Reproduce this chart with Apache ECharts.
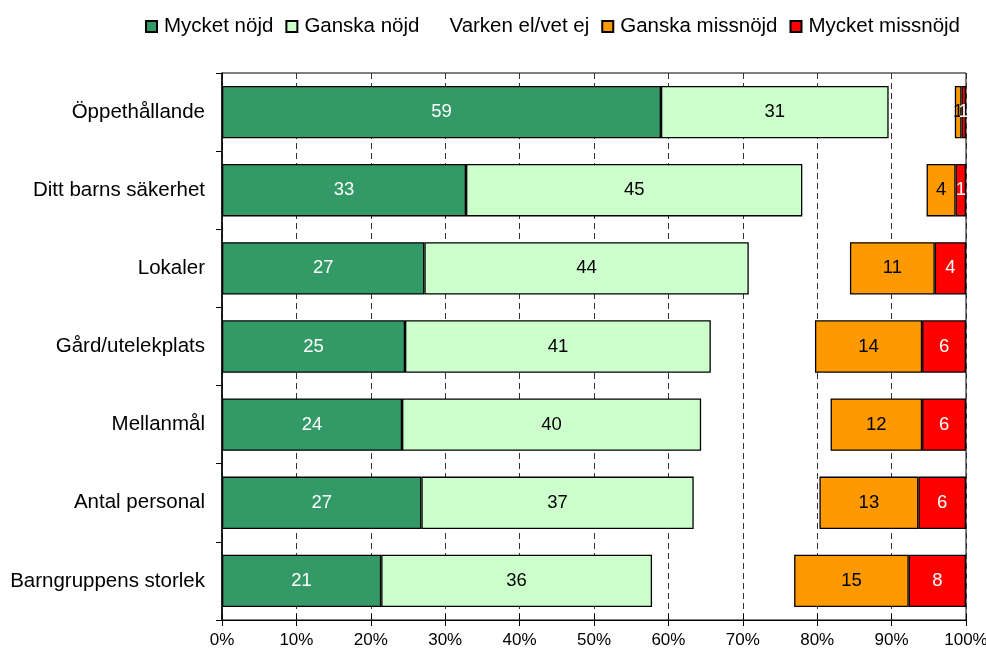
<!DOCTYPE html>
<html>
<head>
<meta charset="utf-8">
<script src="https://cdn.jsdelivr.net/npm/echarts@6/dist/echarts.min.js"></script>
<style>html,body{margin:0;padding:0;background:#fff}#c{width:986px;height:652px}</style>
</head>
<body>
<div id="c"></div>
<script>
const categories = ['Öppethållande','Ditt barns säkerhet','Lokaler','Gård/utelekplats','Mellanmål','Antal personal','Barngruppens storlek'];
const seriesNames = ['Mycket nöjd','Ganska nöjd','Varken el/vet ej','Ganska missnöjd','Mycket missnöjd'];
const mycketNojd = [59.0, 32.8, 27.2, 24.6, 24.2, 26.8, 21.4];
const ganskaNojd = [30.6, 45.2, 43.6, 41.1, 40.2, 36.6, 36.4];
const varken = [8.9, 16.7, 13.6, 14.0, 17.4, 16.9, 19.1];
const ganskaMissnojd = [0.9, 3.9, 11.4, 14.4, 12.3, 13.3, 15.4];
const mycketMissnojd = [0.6, 1.4, 4.2, 5.9, 5.9, 6.4, 7.7];
const xTicks = [0,10,20,30,40,50,60,70,80,90,100];

const FONT = "'Liberation Sans', Arial, sans-serif";
const colors = ['#339966','#CCFFCC','rgba(0,0,0,0)','#FF9900','#FF0000'];
const labelColors = ['#fff','#000',null,'#000','#fff'];
const dataSets = [mycketNojd, ganskaNojd, varken, ganskaMissnojd, mycketMissnojd];

const series = dataSets.map((d, i) => ({
  name: seriesNames[i],
  type: 'bar',
  stack: 'total',
  xAxisIndex: 0,
  data: d,
  barCategoryGap: '33%',
  itemStyle: i === 2 ? {color: 'rgba(0,0,0,0)', borderWidth: 0} : {color: colors[i], borderColor: '#000', borderWidth: 1.3},
  label: i === 2 ? {show: false} : {
    show: true, position: 'inside', color: labelColors[i],
    fontFamily: FONT, fontSize: 18.5,
    formatter: p => Math.round(p.value)
  },
  emphasis: {disabled: true},
  animation: false
}));

const chart = echarts.init(document.getElementById('c'));
chart.setOption({
  animation: false,
  textStyle: {fontFamily: FONT},
  legend: {
    top: 11, left: 140,
    icon: 'rect',
    itemWidth: 11, itemHeight: 11, itemGap: 12,
    data: seriesNames,
    textStyle: {fontFamily: FONT, fontSize: 20.5, color: '#000', padding: [0,0,0,2]}
  },
  grid: {left: 222, right: 20, top: 73, bottom: 32, show: true, borderColor: '#000', borderWidth: 1, outerBoundsMode: 'none', containLabel: false},
  xAxis: [{
    type: 'value', min: xTicks[0], max: xTicks[xTicks.length-1], interval: 10,
    axisLine: {show: true, lineStyle: {color: '#000', width: 1}},
    axisTick: {show: true, length: 6, lineStyle: {color: '#000'}},
    axisLabel: {formatter: '{value}%', color: '#000', fontSize: 17, fontFamily: FONT, margin: 12},
    splitLine: {show: true, lineStyle: {color: '#333', type: [6,4], width: 1}}
  },{
    type: 'value', min: 0, max: 100, interval: 10, position: 'bottom',
    axisLine: {show: false},
    axisTick: {show: true, inside: true, length: 6, lineStyle: {color: '#000'}},
    axisLabel: {show: false},
    splitLine: {show: false}
  }],
  yAxis: {
    type: 'category', data: categories, inverse: true,
    axisLine: {show: true, lineStyle: {color: '#000', width: 1.5}},
    axisTick: {show: true, length: 6, lineStyle: {color: '#000'}},
    axisLabel: {color: '#000', fontSize: 20.5, fontFamily: FONT, margin: 17}
  },
  series: series
});
</script>
</body>
</html>
